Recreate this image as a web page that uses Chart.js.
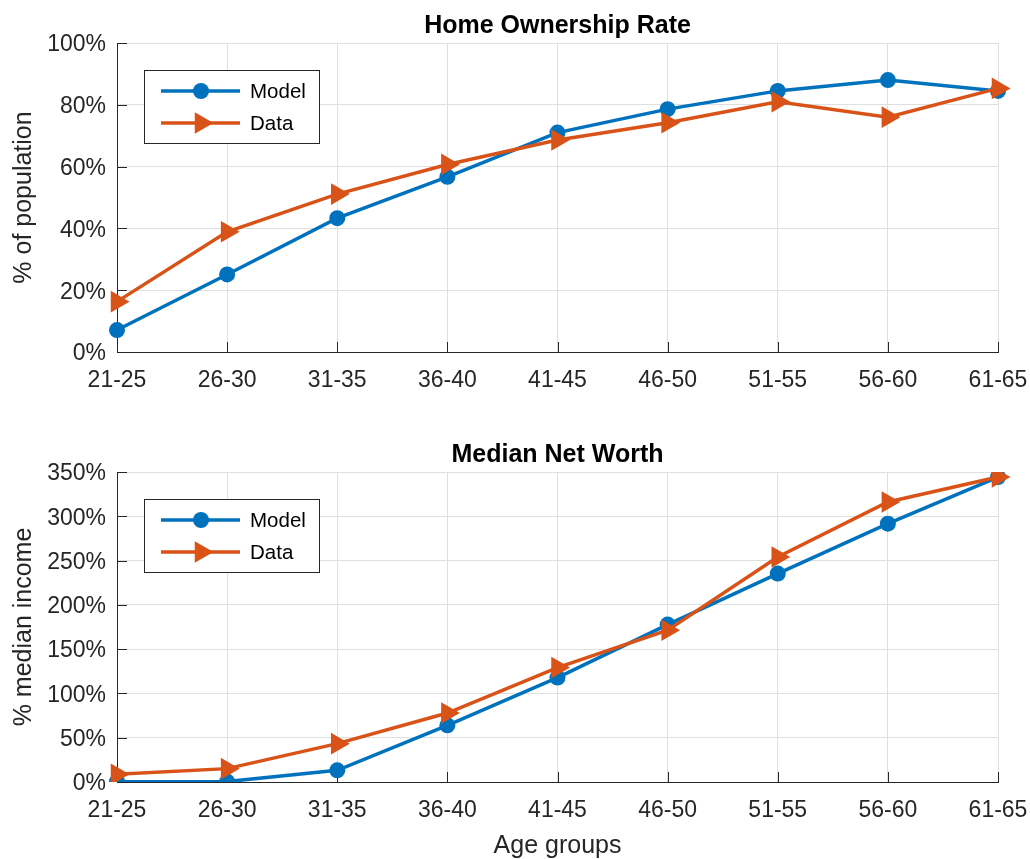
<!DOCTYPE html>
<html>
<head>
<meta charset="utf-8">
<title>Home Ownership Rate and Median Net Worth by Age Group</title>
<script src="https://cdn.jsdelivr.net/npm/chart.js@4.4.1/dist/chart.umd.min.js"></script>
<style>
  html, body { margin: 0; padding: 0; background: #ffffff; }
  canvas { display: block; }
</style>
</head>
<body>
<canvas id="ownership" width="1030" height="430"></canvas>
<canvas id="networth" width="1030" height="429"></canvas>
<script>
// Age-group categories shared by both panels
const ageGroups = ['21-25', '26-30', '31-35', '36-40', '41-45', '46-50', '51-55', '56-60', '61-65'];

// Home ownership rate (% of population)
const ownershipModel = [7.1, 25.1, 43.3, 56.7, 71.0, 78.6, 84.5, 88.0, 84.5];
const ownershipData  = [16.3, 38.9, 51.1, 60.7, 68.6, 74.2, 81.0, 76.0, 85.3];

// Median net worth (% of median income)
const netWorthModel = [0.3, 0.5, 13.2, 64.0, 117.9, 177.7, 235.3, 291.7, 344.3];
const netWorthData  = [8.7, 15.1, 43.3, 77.9, 129.2, 171.3, 254.0, 316.1, 344.3];

// Axis ranges
const ownershipTicks = { min: 0, max: 100, step: 20 };
const netWorthTicks  = { min: 0, max: 350, step: 50 };

const BLUE = '#0072BD';
const ORANGE = '#D95319';
const AXIS = '#262626';
const GRID = '#dfdfdf';
const FONT = "'Liberation Sans', Arial, Helvetica, sans-serif";

// Ticks pointing into the plot, titles, axis labels and the boxed legend
const decorPlugin = {
  id: 'decor',
  beforeDatasetsDraw(chart) {
    const { ctx, chartArea: a, scales } = chart;
    const len = 10;
    ctx.save();
    ctx.strokeStyle = AXIS;
    ctx.lineWidth = 1;
    ctx.beginPath();
    scales.x.ticks.forEach((t, i) => {
      const px = Math.round(scales.x.getPixelForTick(i)) + 0.5;
      ctx.moveTo(px, a.bottom);
      ctx.lineTo(px, a.bottom - len);
    });
    scales.y.ticks.forEach(t => {
      const py = Math.round(scales.y.getPixelForValue(t.value)) + 0.5;
      ctx.moveTo(a.left, py);
      ctx.lineTo(a.left + len, py);
    });
    ctx.stroke();
    ctx.restore();
  },
  afterDatasetsDraw(chart) {
    const { ctx, chartArea: a } = chart;
    // legend box
    const bx = 144.5, bw = 175;
    const by = a.top + 27.5, bh = 73;
    ctx.save();
    ctx.fillStyle = '#ffffff';
    ctx.fillRect(bx, by, bw, bh);
    ctx.strokeStyle = AXIS;
    ctx.lineWidth = 1;
    ctx.strokeRect(bx, by, bw, bh);
    const rows = [a.top + 48, a.top + 80];
    chart.data.datasets.forEach((ds, i) => {
      const y = rows[i];
      ctx.strokeStyle = ds.borderColor;
      ctx.lineWidth = ds.borderWidth;
      ctx.beginPath();
      ctx.moveTo(161, y);
      ctx.lineTo(240, y);
      ctx.stroke();
      ctx.fillStyle = ds.borderColor;
      const cx = 201;
      ctx.beginPath();
      if (ds.pointStyle === 'triangle') {
        const r = ds.pointRadius;
        ctx.moveTo(cx + r, y);
        ctx.lineTo(cx - r / 2, y - r * 0.866);
        ctx.lineTo(cx - r / 2, y + r * 0.866);
        ctx.closePath();
      } else {
        ctx.arc(cx, y, ds.pointRadius, 0, Math.PI * 2);
      }
      ctx.fill();
      ctx.fillStyle = '#000000';
      ctx.font = '20.5px ' + FONT;
      ctx.textAlign = 'left';
      ctx.textBaseline = 'middle';
      ctx.fillText(ds.label, 250, y + 1);
    });
    ctx.restore();
  },
  afterDraw(chart, args, opts) {
    const { ctx, chartArea: a } = chart;
    const cx = (a.left + a.right) / 2;
    ctx.save();
    // title
    ctx.fillStyle = '#000000';
    ctx.font = 'bold 25px ' + FONT;
    ctx.textAlign = 'center';
    ctx.textBaseline = 'alphabetic';
    ctx.fillText(opts.title, cx, a.top - 10.5);
    // y-axis label
    ctx.fillStyle = AXIS;
    ctx.font = '25px ' + FONT;
    ctx.translate(31, (a.top + a.bottom) / 2);
    ctx.rotate(-Math.PI / 2);
    ctx.fillText(opts.yLabel, 0, 0);
    ctx.restore();
    // x-axis label
    if (opts.xLabel) {
      ctx.save();
      ctx.fillStyle = AXIS;
      ctx.font = '25px ' + FONT;
      ctx.textAlign = 'center';
      ctx.textBaseline = 'alphabetic';
      ctx.fillText(opts.xLabel, cx, a.bottom + 71);
      ctx.restore();
    }
  }
};

function makeTriangleSeries(label, values) {
  return {
    label, data: values,
    borderColor: ORANGE, backgroundColor: ORANGE,
    borderWidth: 3.5,
    pointStyle: 'triangle', pointRotation: 90,
    pointRadius: 12.5, pointBorderWidth: 0,
    pointBackgroundColor: ORANGE,
    tension: 0, order: 0
  };
}

function makeCircleSeries(label, values) {
  return {
    label, data: values,
    borderColor: BLUE, backgroundColor: BLUE,
    borderWidth: 3.5,
    pointStyle: 'circle',
    pointRadius: 8, pointBorderWidth: 0,
    pointBackgroundColor: BLUE,
    tension: 0, order: 1
  };
}

function buildPanel(id, cfg) {
  const canvas = document.getElementById(id);
  const axisHeight = canvas.height - cfg.plotBottom;
  return new Chart(canvas, {
    type: 'line',
    data: {
      labels: ageGroups,
      datasets: [
        makeCircleSeries('Model', cfg.model),
        makeTriangleSeries('Data', cfg.data)
      ]
    },
    options: {
      responsive: false,
      animation: false,
      events: [],
      layout: { autoPadding: false, padding: { top: cfg.plotTop, right: 32, left: 0, bottom: 0 } },
      plugins: {
        legend: { display: false },
        tooltip: { enabled: false },
        title: { display: false },
        decor: { title: cfg.title, yLabel: cfg.yLabel, xLabel: cfg.xLabel }
      },
      scales: {
        x: {
          offset: false,
          grid: { color: GRID, lineWidth: 1, drawTicks: false },
          border: { color: AXIS, width: 1 },
          ticks: {
            color: AXIS, padding: 15, maxRotation: 0, autoSkip: false,
            font: { family: FONT, size: 23 }
          },
          afterFit(scale) {
            scale.height = axisHeight;
            scale.paddingRight = 0;
            scale.paddingLeft = 0;
          }
        },
        y: {
          min: cfg.ticks.min, max: cfg.ticks.max,
          grid: { color: GRID, lineWidth: 1, drawTicks: false },
          border: { color: AXIS, width: 1 },
          ticks: {
            stepSize: cfg.ticks.step, color: AXIS, padding: 11, labelOffset: 2,
            font: { family: FONT, size: 23 },
            callback: v => v + '%'
          },
          afterFit(scale) {
            scale.width = 117;
            scale.paddingTop = 0;
            scale.paddingBottom = 0;
          }
        }
      }
    },
    plugins: [decorPlugin]
  });
}

buildPanel('ownership', {
  title: 'Home Ownership Rate',
  yLabel: '% of population',
  model: ownershipModel,
  data: ownershipData,
  ticks: ownershipTicks,
  plotTop: 43,
  plotBottom: 352
});

buildPanel('networth', {
  title: 'Median Net Worth',
  yLabel: '% median income',
  xLabel: 'Age groups',
  model: netWorthModel,
  data: netWorthData,
  ticks: netWorthTicks,
  plotTop: 42,
  plotBottom: 352
});
</script>
</body>
</html>
